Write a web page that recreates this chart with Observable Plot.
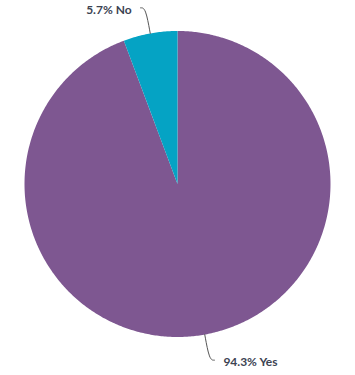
<!DOCTYPE html>
<html><head><meta charset="utf-8">
<script src="https://cdn.jsdelivr.net/npm/d3@7"></script>
<script src="https://cdn.jsdelivr.net/npm/@observablehq/plot@0.6"></script>
<style>body{margin:0;background:#fff}</style>
</head><body><div id="chart"></div>
<script>
const categories = ["Yes", "No"];
const shares = [94.3, 5.7];
const colors = ["#7e5791", "#05a3c4"];
const labels = ["94.3% Yes", "5.7% No"];

const W = 355, H = 375, cx = 177, cy = 183.5, R = 153;
const rows = categories.map((c, i) => ({category: c, share: shares[i], label: labels[i]}));
const arcs = d3.pie().sort(null).value(d => d.share)(rows);

// slice polygons in unit-radius data space (angle clockwise from top)
const poly = [];
for (const a of arcs) {
  const c = a.data.category;
  poly.push({category: c, x: 0, y: 0});
  const n = Math.max(4, Math.ceil((a.endAngle - a.startAngle) / 0.01));
  for (let k = 0; k <= n; k++) {
    const t = a.startAngle + (a.endAngle - a.startAngle) * k / n;
    poly.push({category: c, x: Math.sin(t), y: Math.cos(t)});
  }
  poly.push({category: c, x: 0, y: 0});
}

// leader lines & labels
const leaders = [], texts = [];
for (const a of arcs) {
  const m = (a.startAngle + a.endAngle) / 2;
  const s = Math.sin(m) < 0 ? -1 : 1;
  const ex = Math.sin(m), ey = Math.cos(m);
  const bx = 1.17 * Math.sin(m), by = 1.17 * Math.cos(m);
  const fx = bx + s * 5 / R;
  leaders.push({category: a.data.category, x: ex, y: ey});
  leaders.push({category: a.data.category, x: bx, y: by});
  leaders.push({category: a.data.category, x: fx, y: by});
  texts.push({label: a.data.label, x: fx + s * 9 / R, y: by, anchor: s < 0 ? "end" : "start"});
}

const chart = Plot.plot({
  width: W, height: H,
  margin: 0,
  x: {domain: [-cx / R, (W - cx) / R], axis: null},
  y: {domain: [-(H - cy) / R, cy / R], axis: null},
  color: {domain: categories, range: colors},
  style: {fontFamily: "Lato, sans-serif", background: "#fff"},
  marks: [
    Plot.line(poly, {x: "x", y: "y", z: "category", fill: "category", stroke: "none", curve: "linear"}),
    Plot.line(leaders, {x: "x", y: "y", z: "category", stroke: "#555", strokeWidth: 1, curve: "basis"}),
    Plot.text(texts.filter(d => d.anchor === "end"), {x: "x", y: "y", text: "label", textAnchor: "end", dy: 2, fill: "#3c4352", fontSize: 12, fontWeight: "bold"}),
    Plot.text(texts.filter(d => d.anchor === "start"), {x: "x", y: "y", text: "label", textAnchor: "start", dy: 2, fill: "#3c4352", fontSize: 12, fontWeight: "bold"})
  ]
});
document.getElementById("chart").appendChild(chart);
</script>
</body></html>
